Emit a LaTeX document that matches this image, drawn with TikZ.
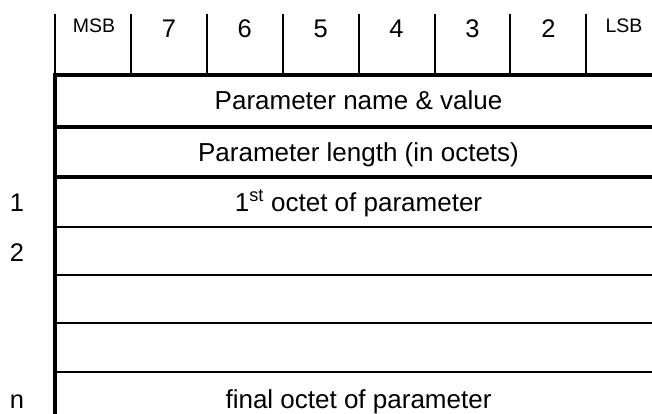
\documentclass[tikz,border=0pt]{standalone}
\usepackage{fontspec}
\setmainfont{Liberation Sans}
\usetikzlibrary{positioning}

\begin{document}
\begin{tikzpicture}[
    x=1pt, y=-1pt,
    bitlabel/.style={anchor=base, font=\fontsize{25.5}{30}\selectfont},
    endlabel/.style={anchor=base, font=\fontsize{19.5}{23}\selectfont},
    field/.style={anchor=base, font=\fontsize{26}{31}\selectfont},
    rowlabel/.style={anchor=base, font=\fontsize{25.5}{30}\selectfont},
    thickrule/.style={line width=4pt},
    thinrule/.style={line width=2.4pt},
    bitrule/.style={line width=2pt}
]

\clip (0,0) rectangle (652,414);

% header with the bit numbers
\foreach \i in {0,...,8}
    \draw[bitrule] (55+75.9*\i,14) -- (55+75.9*\i,75);
\node[endlabel] (MSB) at (94,32.5) {MSB};
\foreach \b [count=\i] in {7,6,5,4,3,2}
    \node[bitlabel] (Bit\b) at (55+75.9*\i+37.95,38) {\b};
\node[endlabel] (LSB) at (624,32.5) {LSB};

% rows of the parameter
\foreach \y in {75,127,177}
    \draw[thickrule] (55,\y) -- (662,\y);
\foreach \y in {227,275,323,372}
    \draw[thinrule] (55,\y) -- (662,\y);
\draw[thickrule] (55,73) -- (55,414);

\node[field] (NameValue) at (358.5,110) {Parameter name \& value};
\node[field] (Length) at (358.5,161) {Parameter length (in octets)};
\node[field] (First) at (358.5,211) {1\textsuperscript{st} octet of parameter};
\node[field] (Final) at (358.5,408) {final octet of parameter};

\node[rowlabel] (RowOne) at (17,211) {1};
\node[rowlabel] (RowTwo) at (17,261) {2};
\node[rowlabel] (RowN) at (17,408) {n};

\end{tikzpicture}
\end{document}
